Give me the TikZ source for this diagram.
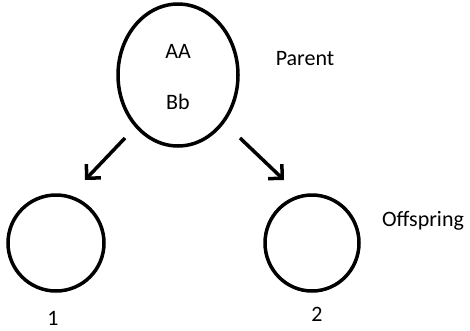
\documentclass[tikz,border=0pt]{standalone}
\usepackage{fontspec}
\setmainfont{Carlito}
\usetikzlibrary{arrows.meta}
\begin{document}
\begin{tikzpicture}[x=1pt,y=-1pt,
  ring/.style={line width=3.5pt},
  lbl/.style={font=\fontsize{22}{26}\selectfont, inner sep=0pt},
  arr/.style={line width=3.5pt, -{Straight Barb[length=10pt,width=20pt,line width=3.5pt]}}]
\useasboundingbox (0,0) rectangle (470,330);
\draw[ring] (178,75) ellipse [x radius=60, y radius=71];
\node[lbl] (aa) at (178,51) {AA};
\node[lbl] (bb) at (178,102) {Bb};
\node[lbl] (parent) at (305,59) {Parent};
\draw[ring] (56,243) ellipse [x radius=48, y radius=48];
\draw[ring] (312,243) ellipse [x radius=47, y radius=48];
\node[lbl] (o1) at (53,318) {1};
\node[lbl] (o2) at (317,314) {2};
\node[lbl] (off) at (423,221) {Offspring};
\coordinate (l1) at (125,138);
\coordinate (l2) at (85,180);
\coordinate (r1) at (240,138);
\coordinate (r2) at (284,180);
\draw[arr] (l1) -- (l2);
\draw[arr] (r1) -- (r2);
\end{tikzpicture}
\end{document}
